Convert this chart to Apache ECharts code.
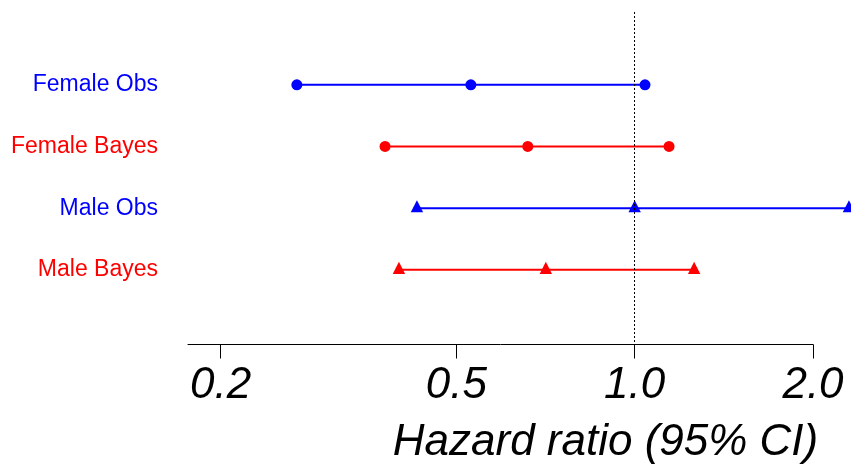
<!DOCTYPE html>
<html>
<head>
<meta charset="utf-8">
<script src="https://cdn.jsdelivr.net/npm/echarts@6/dist/echarts.min.js"></script>
<style>html,body{margin:0;padding:0;background:#fff}#c{width:851px;height:467px}</style>
</head>
<body>
<div id="c"></div>
<script>
var categories = ['Female Obs', 'Female Bayes', 'Male Obs', 'Male Bayes'];
var lower    = [0.269, 0.379, 0.429, 0.400];
var estimate = [0.529, 0.660, 1.000, 0.708];
var upper    = [1.041, 1.143, 2.300, 1.260];
var colors   = ['#0000FF', '#FF0000', '#0000FF', '#FF0000'];
var symbols  = ['circle', 'circle', 'triangle', 'triangle'];
var xTicks   = [0.2, 0.5, 1.0, 2.0];
var refValue = 1.0;
var xTitle   = 'Hazard ratio (95% CI)';

var chart = echarts.init(document.getElementById('c'), null, {renderer: 'canvas'});

var rich = {};
categories.forEach(function (c, i) {
  rich['c' + i] = {color: colors[i], fontSize: 23, fontFamily: "'Liberation Sans', Arial, sans-serif"};
});

var rowData = categories.map(function (c, i) { return [lower[i], estimate[i], upper[i], i]; });

function renderRow(params, api) {
  var row = api.value(3);
  var col = colors[row];
  var pts = [0, 1, 2].map(function (k) { return api.coord([api.value(k), row]); });
  var children = [{
    type: 'line',
    shape: {x1: pts[0][0], y1: pts[0][1], x2: pts[2][0], y2: pts[2][1]},
    style: {stroke: col, lineWidth: 2}
  }];
  pts.forEach(function (p) {
    if (symbols[row] === 'circle') {
      children.push({type: 'circle', shape: {cx: p[0], cy: p[1], r: 5.5}, style: {fill: col}});
    } else {
      children.push({type: 'polygon', shape: {points: [[p[0], p[1] - 8], [p[0] - 6.2, p[1] + 4.2], [p[0] + 6.2, p[1] + 4.2]]}, style: {fill: col}});
    }
  });
  return {type: 'group', children: children};
}

chart.setOption({
  animation: false,
  grid: {left: 188, right: 38, top: 12, bottom: 122.5, containLabel: false, outerBoundsMode: 'none'},
  xAxis: {
    type: 'log',
    logBase: 10,
    min: 0.1762,
    max: 2.0,
    axisLine: {show: true, onZero: false, lineStyle: {color: '#000', width: 1}},
    axisTick: {show: true, length: 14, lineStyle: {color: '#000', width: 1}, customValues: xTicks},
    axisLabel: {
      show: true,
      customValues: xTicks,
      margin: 19,
      color: '#000',
      fontSize: 44,
      fontStyle: 'italic',
      fontFamily: "'Liberation Sans', Arial, sans-serif",
      formatter: function (v) { return Number(v).toFixed(1); }
    },
    splitLine: {show: false},
    minorTick: {show: false},
    minorSplitLine: {show: false}
  },
  yAxis: {
    type: 'value',
    inverse: true,
    min: -1.18,
    max: 4.21,
    axisLine: {show: false},
    axisTick: {show: false},
    splitLine: {show: false},
    axisLabel: {
      show: true,
      customValues: [0, 1, 2, 3],
      margin: 30,
      formatter: function (v) {
        var i = Math.round(v);
        return '{c' + i + '|' + categories[i] + '}';
      },
      rich: rich
    }
  },
  graphic: [{
    type: 'text',
    x: 605.5,
    y: 443,
    style: {
      text: xTitle,
      textAlign: 'center',
      textVerticalAlign: 'middle',
      fill: '#000',
      font: "italic 44px 'Liberation Sans', Arial, sans-serif"
    }
  }],
  series: [{
    type: 'custom',
    name: 'HR',
    data: rowData,
    encode: {x: [0, 1, 2], y: 3},
    clip: false,
    renderItem: renderRow,
    silent: true,
    z: 3,
    markLine: {
      silent: true,
      symbol: ['none', 'none'],
      label: {show: false},
      lineStyle: {color: '#000', type: [2, 2], width: 1},
      data: [{xAxis: refValue}],
      animation: false
    }
  }]
});
</script>
</body>
</html>
